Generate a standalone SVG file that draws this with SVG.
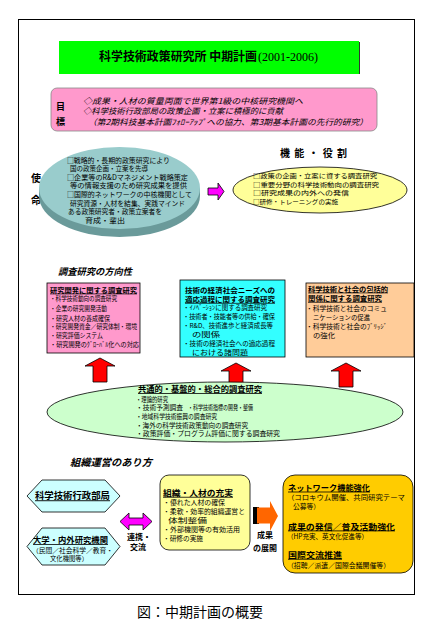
<svg xmlns="http://www.w3.org/2000/svg" width="425" height="632" viewBox="0 0 425 632">
<style>
text{font-family:"Noto Sans CJK JP","Noto Sans CJK SC",sans-serif;fill:#000}
.b{font-weight:bold}
.u{text-decoration:underline}
.i{font-style:italic}
.s6{font-size:6.3px}
.s7{font-size:6.9px}
.s8{font-size:8px}
.s9{font-size:9px}
.ol{stroke:#000;stroke-width:0.8}
</style>
<defs>
<path id="uparrow" d="M0,0 L15,8 L7,8 L7,24 L-7,24 L-7,8 L-15,8 Z"/>
</defs>
<rect x="18.5" y="19.5" width="396" height="575" fill="#fff" stroke="#000" stroke-width="1"/>

<g id="title">
<rect x="59" y="41" width="300" height="33" fill="#00ff00"/>
<line x1="359.5" y1="42" x2="359.5" y2="74" stroke="#333" stroke-width="1"/>
<text x="99" y="61" class="b" font-size="12" textLength="158" lengthAdjust="spacingAndGlyphs">科学技術政策研究所 中期計画</text>
<text x="258" y="61" font-size="12.5" style="font-family:'Liberation Serif',serif" textLength="60" lengthAdjust="spacingAndGlyphs">(2001-2006)</text>
</g>

<g id="goal">
<rect x="51" y="88" width="326" height="43" rx="6" fill="#ff99cc" stroke="#888" stroke-width="0.8"/>
<text x="56" y="110" class="b s9">目</text>
<text x="56" y="124.5" class="b s9">標</text>
<text x="83" y="103.5" class="i" font-size="8" textLength="220" lengthAdjust="spacingAndGlyphs">◇成果・人材の質量両面で世界第1級の中核研究機関へ</text>
<text x="83" y="114.3" class="i" font-size="8" textLength="200" lengthAdjust="spacingAndGlyphs">◇科学技術行政部局の政策企画・立案に積極的に貢献</text>
<text x="88" y="125" class="i" font-size="8" textLength="280" lengthAdjust="spacingAndGlyphs">（第2期科技基本計画ﾌｫﾛｰｱｯﾌﾟへの協力、第3期基本計画の先行的研究）</text>
</g>

<g id="mission">
<text x="31" y="182" class="b" font-size="10">使</text>
<text x="31" y="204" class="b" font-size="10">命</text>
<ellipse cx="119.5" cy="196" rx="80.5" ry="41" fill="#6a9a9a"/>
<rect x="39" y="188" width="161" height="8" fill="#6a9a9a"/>
<ellipse cx="119.5" cy="188" rx="80.5" ry="41" fill="#99cccc"/>
<g class="s7">
<text x="67" y="162.6" textLength="103" lengthAdjust="spacingAndGlyphs">□戦略的・長期的政策研究により</text>
<text x="70" y="171.2" textLength="78" lengthAdjust="spacingAndGlyphs">国の政策企画・立案を先導</text>
<text x="67" y="179.8" textLength="121" lengthAdjust="spacingAndGlyphs">□企業等のR&amp;Dマネジメント戦略策定</text>
<text x="70" y="188.4" textLength="117" lengthAdjust="spacingAndGlyphs">等の情報支援のため研究成果を提供</text>
<text x="67" y="197" textLength="125" lengthAdjust="spacingAndGlyphs">□国際的ネットワークの中核機関として</text>
<text x="70" y="205.6" textLength="115" lengthAdjust="spacingAndGlyphs">研究資源・人材を結集、実践マインド</text>
<text x="68" y="214.2" textLength="94" lengthAdjust="spacingAndGlyphs">ある政策研究者・政策立案者を</text>
<text x="85" y="222.8" textLength="40" lengthAdjust="spacingAndGlyphs">育成・輩出</text>
</g>
</g>

<g id="role">
<text x="280" y="157" class="b" font-size="10" textLength="67" lengthAdjust="spacing">機能・役割</text>
<ellipse cx="320" cy="190" rx="87" ry="23" fill="#ffff99" stroke="#000" stroke-width="0.8"/>
<g font-size="6.2">
<text x="253" y="178" textLength="124" lengthAdjust="spacingAndGlyphs">□政策の企画・立案に資する調査研究</text>
<text x="253" y="186.6" textLength="126" lengthAdjust="spacingAndGlyphs">□重要分野の科学技術動向の調査研究</text>
<text x="253" y="195.2" textLength="96" lengthAdjust="spacingAndGlyphs">□研究成果の内外への発信</text>
<text x="253" y="203.8" textLength="85" lengthAdjust="spacingAndGlyphs">□研修・トレーニングの実施</text>
</g>
</g>

<text x="58" y="275" class="b i" font-size="9.3" textLength="74" lengthAdjust="spacingAndGlyphs">調査研究の方向性</text>

<g id="box1">
<rect x="47" y="283" width="93" height="70" fill="#ff99cc" stroke="#000" stroke-width="0.8"/>
<text x="50" y="292.6" class="b u s7" textLength="87" lengthAdjust="spacingAndGlyphs">研究開発に関する調査研究</text>
<g class="s6">
<text x="50" y="301.3" textLength="67" lengthAdjust="spacingAndGlyphs">・科学技術動向の調査研究</text>
<text x="50" y="311.3" textLength="57" lengthAdjust="spacingAndGlyphs">・企業の研究開発活動</text>
<text x="50" y="320.6" textLength="60" lengthAdjust="spacingAndGlyphs">・研究人材の養成確保</text>
<text x="50" y="329" textLength="87" lengthAdjust="spacingAndGlyphs">・研究開発資金／研究体制・環境</text>
<text x="50" y="338" textLength="53" lengthAdjust="spacingAndGlyphs">・研究評価システム</text>
<text x="50" y="347.3" textLength="89" lengthAdjust="spacingAndGlyphs">・研究開発のｸﾞﾛｰﾊﾞﾙ化への対応</text>
</g>
</g>

<g id="box2">
<rect x="180" y="280" width="105" height="77" fill="#33ffff" stroke="#000" stroke-width="0.8"/>
<text x="185" y="292.6" class="b s7" textLength="90" lengthAdjust="spacingAndGlyphs">技術の経済社会ニーズへの</text>
<text x="185" y="301.9" class="b u s7" textLength="90" lengthAdjust="spacingAndGlyphs">適応過程に関する調査研究</text>
<g class="s6">
<text x="183" y="310" textLength="84" lengthAdjust="spacingAndGlyphs">・ｲﾉﾍﾞｰｼｮﾝに関する調査研究</text>
<text x="183" y="319" textLength="92" lengthAdjust="spacingAndGlyphs">・技術者・技能者等の供給・確保</text>
<text x="183" y="327.5" textLength="90" lengthAdjust="spacingAndGlyphs">・R&amp;D、技術進歩と経済成長等</text>
<text x="192" y="337.3" textLength="28" lengthAdjust="spacingAndGlyphs">の関係</text>
<text x="183" y="346.3" textLength="92" lengthAdjust="spacingAndGlyphs">・技術の経済社会への適応過程</text>
<text x="192" y="354.6" textLength="56" lengthAdjust="spacingAndGlyphs">における諸問題</text>
</g>
</g>

<g id="box3">
<rect x="306" y="283" width="108" height="74" fill="#ffcc99" stroke="#000" stroke-width="0.8"/>
<text x="308" y="291.6" class="b u s7" textLength="80" lengthAdjust="spacingAndGlyphs">科学技術と社会の包括的</text>
<text x="308" y="300.9" class="b u s7" textLength="74" lengthAdjust="spacingAndGlyphs">関係に関する調査研究</text>
<g class="s6">
<text x="306" y="310.6" textLength="81" lengthAdjust="spacingAndGlyphs">・科学技術と社会のコミュ</text>
<text x="313" y="320" textLength="57" lengthAdjust="spacingAndGlyphs">ニケーションの促進</text>
<text x="306" y="329" textLength="81" lengthAdjust="spacingAndGlyphs">・科学技術と社会のﾌﾞﾘｯｼﾞ</text>
<text x="313" y="338" textLength="22" lengthAdjust="spacingAndGlyphs">の強化</text>
</g>
</g>

<g id="connectors">
<use href="#uparrow" x="100" y="358" fill="#ff0000" class="ol"/>
<use href="#uparrow" x="236" y="363" fill="#ff0000" class="ol"/>
<use href="#uparrow" x="346" y="363" fill="#ff0000" class="ol"/>
<path d="M208,188 L218,188 L218,183 L224,191.5 L218,200 L218,195 L208,195 Z" fill="#ff00ff" class="ol"/>
<path d="M120,521.5 L129,513 L129,518 L143,518 L143,513 L152,521.5 L143,530 L143,525 L129,525 L129,530 Z" fill="#ff00ff" class="ol"/>
<rect x="253" y="507" width="6" height="17" fill="#000"/>
<path d="M257,507.5 L270,507.5 L270,501 L278,516 L270,531 L270,523.5 L257,523.5 Z" fill="#ff6600"/>
</g>

<g id="common">
<ellipse cx="225" cy="412" rx="178" ry="30" fill="#ccffcc" stroke="#000" stroke-width="0.8"/>
<text x="138" y="392" class="b u s8" textLength="124" lengthAdjust="spacingAndGlyphs">共通的・基盤的・総合的調査研究</text>
<g font-size="6.6">
<text x="136" y="401.6" textLength="32" lengthAdjust="spacingAndGlyphs">・理論的研究</text>
<text x="136" y="410.3" textLength="47" lengthAdjust="spacingAndGlyphs">・技術予測調査</text>
<text x="188" y="410.3" textLength="65" lengthAdjust="spacingAndGlyphs">・科学技術指標の開発・整備</text>
<text x="136" y="419" textLength="81" lengthAdjust="spacingAndGlyphs">・地域科学技術振興の調査研究</text>
<text x="136" y="427.7" textLength="112" lengthAdjust="spacingAndGlyphs">・海外の科学技術政策動向の調査研究</text>
<text x="136" y="436.4" textLength="144" lengthAdjust="spacingAndGlyphs">・政策評価・プログラム評価に関する調査研究</text>
</g>
</g>

<text x="70" y="465.5" class="b i" font-size="10" textLength="82" lengthAdjust="spacingAndGlyphs">組織運営のあり方</text>

<g id="hex1">
<path d="M27,496 L42,480 L105,480 L120,496 L105,512 L42,512 Z" fill="#ccffff" stroke="#000" stroke-width="0.8"/>
<text x="35" y="499.3" class="b u s9" textLength="75" lengthAdjust="spacingAndGlyphs">科学技術行政部局</text>
</g>

<g id="hex2">
<path d="M27,546.5 L42,528 L105,528 L120,546.5 L105,565 L42,565 Z" fill="#ccffff" stroke="#000" stroke-width="0.8"/>
<text x="33" y="543" class="b u s8" textLength="75" lengthAdjust="spacingAndGlyphs">大学・内外研究機関</text>
<text x="32" y="552.5" class="s6" textLength="81" lengthAdjust="spacingAndGlyphs">（民間／社会科学／教育・</text>
<text x="50" y="560.5" class="s6" textLength="38" lengthAdjust="spacingAndGlyphs">文化機関等）</text>
</g>

<g id="link-label">
<text x="139" y="540" class="b s8" text-anchor="middle">連携・</text>
<text x="138" y="550" class="b s8" text-anchor="middle">交流</text>
</g>

<g id="org">
<rect x="160" y="475" width="90" height="75" rx="9" fill="#ffff99" stroke="#000" stroke-width="0.8"/>
<text x="163" y="495.8" class="b u s8" textLength="70" lengthAdjust="spacingAndGlyphs">組織・人材の充実</text>
<g font-size="6.4">
<text x="163" y="505.2" textLength="62" lengthAdjust="spacingAndGlyphs">・優れた人材の確保</text>
<text x="163" y="514.1" textLength="82" lengthAdjust="spacingAndGlyphs">・柔軟・効率的組織運営と</text>
<text x="168" y="523" textLength="39" lengthAdjust="spacingAndGlyphs">体制整備</text>
<text x="163" y="531.9" textLength="77" lengthAdjust="spacingAndGlyphs">・外部機関等の有効活用</text>
<text x="163" y="540.8" textLength="40" lengthAdjust="spacingAndGlyphs">・研修の実施</text>
</g>
</g>

<g id="result-label">
<text x="265" y="538" class="b s8" text-anchor="middle">成果</text>
<text x="265" y="551" class="b s8" text-anchor="middle">の展開</text>
</g>

<g id="network">
<rect x="283" y="475" width="130" height="98" rx="12" fill="#ffcc00" stroke="#000" stroke-width="0.8"/>
<text x="288" y="490.6" class="b u s8" textLength="82" lengthAdjust="spacingAndGlyphs">ネットワーク機能強化</text>
<g class="s7">
<text x="287" y="499.9" textLength="118" lengthAdjust="spacingAndGlyphs">（コロキウム開催、共同研究テーマ</text>
<text x="293" y="508.5" textLength="27" lengthAdjust="spacingAndGlyphs">公募等）</text>
</g>
<text x="288" y="529.5" class="b u s8" textLength="107" lengthAdjust="spacingAndGlyphs">成果の発信／普及活動強化</text>
<text x="287" y="539.3" class="s7" textLength="81" lengthAdjust="spacingAndGlyphs">（HP充実、英文化促進等）</text>
<text x="288" y="557.8" class="b u s8" textLength="54" lengthAdjust="spacingAndGlyphs">国際交流推進</text>
<text x="287" y="567.6" class="s7" textLength="103" lengthAdjust="spacingAndGlyphs">（招聘／派遣／国際会議開催等）</text>
</g>

<text x="200" y="617" font-size="14" text-anchor="middle" textLength="126" lengthAdjust="spacingAndGlyphs">図：中期計画の概要</text>
</svg>
